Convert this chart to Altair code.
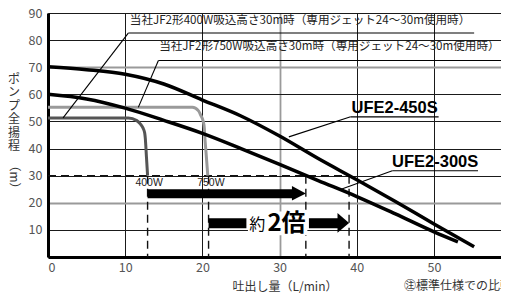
import altair as alt
import pandas as pd

# ---- data ----
ufe450_x = [0, 5, 10, 15, 20, 25, 30, 35, 40, 45, 50, 55.2]
ufe450_y = [70.2, 69.1, 67.4, 63.8, 57.9, 52.0, 44.6, 36.3, 28.5, 20.5, 12.2, 3.8]

ufe300_x = [0, 5, 10, 15, 20, 25, 30, 35, 40, 45, 50, 53.1]
ufe300_y = [60.0, 58.3, 54.9, 50.4, 45.6, 40.0, 34.2, 28.2, 22.3, 15.9, 9.3, 5.6]

jf400_x = [0, 10.4, 11.5, 11.95, 12.3, 12.52, 12.6, 12.75, 12.9]
jf400_y = [51.3, 51.3, 50.3, 49.1, 47.6, 45.8, 43.9, 37.0, 30.0]

jf750_x = [0, 18.7, 19.5, 19.8, 20.1, 20.25, 20.3, 20.5, 20.7]
jf750_y = [55.2, 55.2, 53.9, 52.2, 50.1, 47.5, 45.0, 37.5, 30.0]

# dashed reference lines (x, y, x2, y2)
dash_x = [0, 12.9, 20.8, 33.4, 39.0]
dash_y = [30, 30, 30, 30, 30]
dash_x2 = [39.0, 12.9, 20.8, 33.4, 39.0]
dash_y2 = [30, 0, 0, 0, 0]

# leader lines and underlines (x, y, x2, y2)
lead_x = [10.4, 10.4, 14.3, 14.3, 39.2, 39.2, 44.6, 44.6]
lead_y = [82.6, 82.6, 72.5, 72.5, 51.7, 51.7, 31.8, 31.8]
lead_x2 = [55.2, 1.95, 59.6, 11.7, 50.6, 31.2, 55.7, 37.7]
lead_y2 = [82.6, 51.3, 72.5, 55.2, 51.7, 44.3, 31.8, 24.7]

# arrow bodies (x, x2, y, y2)
body_x = [12.9, 20.8, 33.8]
body_x2 = [31.7, 25.7, 37.6]
body_y = [21.7, 10.6, 10.6]
body_y2 = [25.0, 14.3, 14.3]

# arrow heads: id, x, top, bottom
head_id = ["a1", "a1", "a2", "a2"]
head_x = [31.6, 33.4, 37.5, 39.0]
head_top = [26.2, 23.4, 16.2, 12.5]
head_bot = [20.8, 23.4, 8.9, 12.5]

# annotation texts
note_text = ["当社JF2形400W吸込高さ30m時（専用ジェット24～30m使用時）",
             "当社JF2形750W吸込高さ30m時（専用ジェット24～30m使用時）"]
note_x = [10.6, 14.4]
note_y = [86.9, 77.5]

model_text = ["UFE2-450S", "UFE2-300S"]
model_x = [44.9, 50.15]
model_y = [54.9, 34.9]

watt_text = ["400W", "750W"]
watt_x = [13.1, 21.1]
watt_y = [27.2, 27.2]

x_ticks = [0, 10, 20, 30, 40, 50]
y_ticks = [0, 10, 20, 30, 40, 50, 60, 70, 80, 90]

y_title = "ポ\nン\nプ\n全\n揚\n程"
y_unit = "（m）"
x_title = "吐出し量（L/min）"
footnote = "㊟標準仕様での比較"

JP = "Noto Sans CJK JP"

xs = alt.Scale(domain=[0, 58.68], nice=False, zero=False)
ys = alt.Scale(domain=[0, 90], nice=False)

x_axis = alt.Axis(
    values=x_ticks, ticks=False, labelFont=JP, labelFontSize=12.5, labelColor="#555",
    labelPadding=4, domainColor="#000", domainWidth=3,
    gridColor={"condition": {"test": "datum.value == 30", "value": "#9a9a9a"}, "value": "#1a1a1a"},
    gridWidth={"condition": {"test": "datum.value == 30", "value": 1.8}, "value": 1},
    title=None,
)
y_axis = alt.Axis(
    values=y_ticks, ticks=False, labelFont=JP, labelFontSize=12.5, labelColor="#555",
    labelPadding=6, domainColor="#000", domainWidth=3,
    labelExpr="datum.value == 0 ? '' : datum.label",
    gridColor={"condition": {"test": "datum.value == 20 || datum.value == 70", "value": "#9a9a9a"}, "value": "#1a1a1a"},
    gridWidth={"condition": {"test": "datum.value == 20 || datum.value == 70", "value": 1.8}, "value": 1},
    title=None,
)

X = alt.X("x:Q", scale=xs, axis=x_axis)
Y = alt.Y("y:Q", scale=ys, axis=y_axis)


def curve(xv, yv, color, width):
    df = pd.DataFrame({"x": xv, "y": yv, "o": list(range(len(xv)))})
    return alt.Chart(df).mark_line(color=color, strokeWidth=width, interpolate="monotone",
                                   strokeCap="butt").encode(x=X, y=Y, order="o:Q")


dash_df = pd.DataFrame({"x": dash_x, "y": dash_y, "x2": dash_x2, "y2": dash_y2})
dashes = alt.Chart(dash_df).mark_rule(color="#111", strokeWidth=1.4, strokeDash=[8, 5]).encode(
    x=X, y=Y, x2="x2:Q", y2="y2:Q")

lead_df = pd.DataFrame({"x": lead_x, "y": lead_y, "x2": lead_x2, "y2": lead_y2})
leads = alt.Chart(lead_df).mark_rule(color="#000", strokeWidth=1.1).encode(
    x=X, y=Y, x2="x2:Q", y2="y2:Q")

body_df = pd.DataFrame({"x": body_x, "x2": body_x2, "y": body_y, "y2": body_y2})
bodies = alt.Chart(body_df).mark_rect(color="#000").encode(x=X, x2="x2:Q", y=Y, y2="y2:Q")

head_df = pd.DataFrame({"id": head_id, "x": head_x, "y": head_top, "y2": head_bot})
heads = alt.Chart(head_df).mark_area(color="#000", opacity=1).encode(
    x=X, y=Y, y2="y2:Q", detail="id:N")

gap_df = pd.DataFrame({"x": [25.9], "x2": [33.6], "y": [8.0], "y2": [16.8]})
gap = alt.Chart(gap_df).mark_rect(color="#fff").encode(x=X, x2="x2:Q", y=Y, y2="y2:Q")

note_df = pd.DataFrame({"x": note_x, "y": note_y, "t": note_text})
notes = alt.Chart(note_df).mark_text(font=JP, fontSize=11.6, align="left", baseline="middle",
                                     color="#222").encode(x=X, y=Y, text="t:N")

model_df = pd.DataFrame({"x": model_x, "y": model_y, "t": model_text})
models = alt.Chart(model_df).mark_text(font="Liberation Sans", fontSize=16.5, fontWeight="bold",
                                       align="center", baseline="middle", color="#000").encode(
    x=X, y=Y, text="t:N")

watt_df = pd.DataFrame({"x": watt_x, "y": watt_y, "t": watt_text})
watts = alt.Chart(watt_df).mark_text(font="Liberation Sans", fontSize=10.5, align="center",
                                     baseline="middle", color="#222").encode(x=X, y=Y, text="t:N")

yaku_df = pd.DataFrame({"x": [27.1], "y": [11.9], "t": ["約"]})
yaku = alt.Chart(yaku_df).mark_text(font=JP, fontSize=16, align="center", baseline="middle",
                                    color="#000").encode(x=X, y=Y, text="t:N")
bai_df = pd.DataFrame({"x": [30.9], "y": [12.2], "t": ["2倍"]})
bai = alt.Chart(bai_df).mark_text(font=JP, fontSize=24, fontWeight="bold", align="center",
                                  baseline="middle", color="#000").encode(x=X, y=Y, text="t:N")

ytitle = alt.Chart(pd.DataFrame({"t": [y_title]})).mark_text(
    font=JP, fontSize=12, align="center", baseline="top", lineBreak="\n", lineHeight=13.4,
    color="#333").encode(x=alt.value(-34), y=alt.value(61), text="t:N")

unit = alt.Chart(pd.DataFrame({"t": [y_unit]})).mark_text(
    font=JP, fontSize=12, angle=90, align="center", baseline="middle", color="#333").encode(
    x=alt.value(-34), y=alt.value(164), text="t:N")

xtitle = alt.Chart(pd.DataFrame({"t": [x_title]})).mark_text(
    font=JP, fontSize=12, align="center", baseline="middle", color="#333").encode(
    x=alt.value(237), y=alt.value(274), text="t:N")

foot = alt.Chart(pd.DataFrame({"t": [footnote]})).mark_text(
    font=JP, fontSize=12, align="left", baseline="middle", color="#333").encode(
    x=alt.value(356), y=alt.value(273), text="t:N")

chart = alt.layer(
    dashes,
    curve(jf400_x, jf400_y, "#555", 3),
    curve(jf750_x, jf750_y, "#9a9a9a", 3),
    curve(ufe450_x, ufe450_y, "#000", 3.5),
    curve(ufe300_x, ufe300_y, "#000", 3.5),
    leads,
    bodies,
    heads,
    gap,
    notes,
    models,
    watts,
    yaku,
    bai,
    ytitle,
    unit,
    xtitle,
    foot,
).properties(
    width=453, height=244,
    autosize=alt.AutoSizeParams(type="none"),
    padding={"left": 40, "top": 5, "right": 0, "bottom": 37},
).configure_view(stroke=None).configure(background="#fff")

chart.save("out.html", embed_options={"renderer": "svg", "actions": False})
